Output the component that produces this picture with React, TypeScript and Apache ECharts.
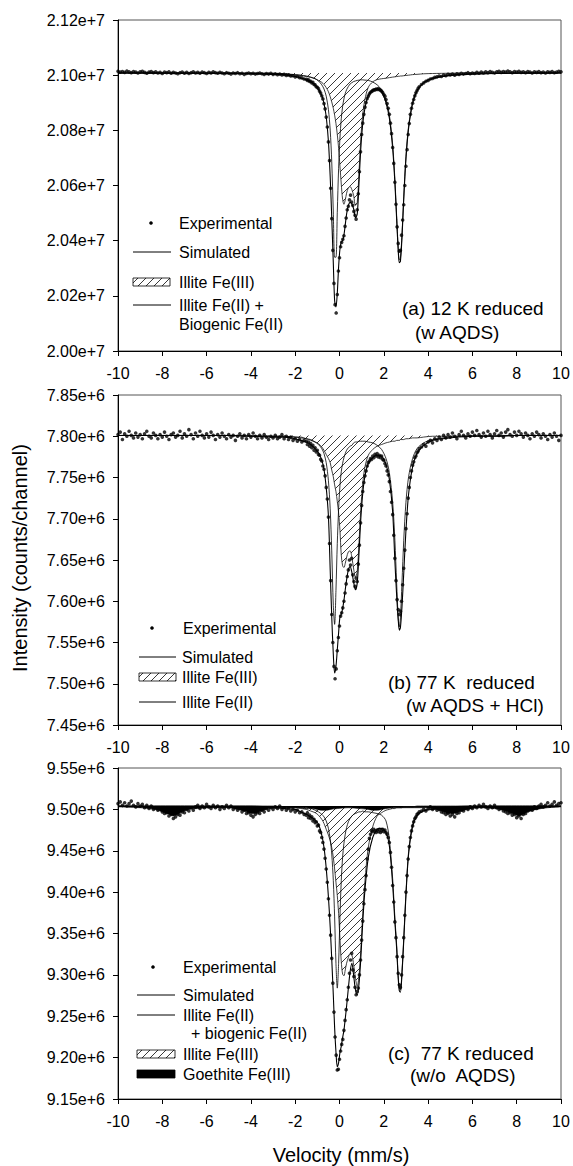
import React, { useEffect, useRef } from "react";
import * as echarts from "echarts";

const FONT = '"Liberation Sans", Arial, Helvetica, sans-serif';

// ---------- fitted curves: velocity grid (mm/s) ----------
const FIT_V = [-10, -7, -5, -4, -3, -2.5, -2, -1.75, -1.5, -1.3, -1.1, -0.95, -0.8, -0.7, -0.6, -0.5, -0.42, -0.35, -0.28, -0.22, -0.16, -0.1, -0.04, 0.02, 0.08, 0.14, 0.2, 0.26, 0.32, 0.4, 0.48, 0.56, 0.64, 0.72, 0.8, 0.88, 0.96, 1.05, 1.15, 1.3, 1.5, 1.7, 1.9, 2.1, 2.25, 2.4, 2.5, 2.58, 2.65, 2.7, 2.75, 2.82, 2.9, 3.0, 3.12, 3.3, 3.5, 3.8, 4.2, 5, 6, 7, 8, 10];

// all intensities below in thousands of counts per channel
// ---------- (a) 12 K reduced (w AQDS) ----------
const BASE_A = 21008;
const SIM_A = [21008, 21007, 21007, 21005, 21003, 21001, 20995, 20990, 20983, 20976, 20964, 20949, 20926, 20898, 20850, 20760, 20632, 20483, 20320, 20183, 20160, 20210, 20305, 20370, 20395, 20400, 20420, 20458, 20496, 20528, 20539, 20533, 20515, 20483, 20496, 20609, 20732, 20824, 20881, 20926, 20946, 20951, 20940, 20900, 20845, 20735, 20610, 20478, 20366, 20320, 20325, 20410, 20550, 20697, 20808, 20897, 20943, 20972, 20988, 20999, 21004, 21006, 21007, 21008];
const FE2_A = [21008, 21007, 21006, 21006, 21005, 21004, 21001, 21000, 20997, 20993, 20987, 20979, 20965, 20950, 20924, 20875, 20801, 20686, 20504, 20340, 20340, 20503, 20662, 20772, 20842, 20886, 20914, 20934, 20947, 20959, 20968, 20973, 20977, 20979, 20981, 20982, 20983, 20983, 20982, 20981, 20975, 20965, 20947, 20910, 20856, 20748, 20623, 20489, 20377, 20331, 20337, 20421, 20559, 20705, 20816, 20901, 20945, 20973, 20989, 21000, 21004, 21006, 21007, 21008];
const FE3_A = [21008, 21008, 21008, 21007, 21006, 21005, 21002, 20999, 20995, 20992, 20987, 20981, 20974, 20966, 20955, 20940, 20922, 20903, 20880, 20855, 20825, 20785, 20735, 20670, 20605, 20550, 20532, 20548, 20572, 20592, 20596, 20585, 20563, 20528, 20538, 20648, 20768, 20858, 20913, 20956, 20976, 20984, 20987, 20989, 20991, 20993, 20994, 20995, 20996, 20996, 20997, 20997, 20998, 20999, 21000, 21002, 21003, 21005, 21006, 21007, 21008, 21008, 21008, 21008];

// ---------- (b) 77 K reduced (w AQDS + HCl) ----------
const BASE_B = 7801;
const SIM_B = [7801, 7801, 7801, 7800, 7799, 7799, 7797, 7795, 7793, 7790, 7785, 7780, 7771, 7760, 7738, 7703, 7638, 7581, 7536, 7513, 7521, 7541, 7562, 7581, 7584, 7591, 7601, 7614, 7626, 7638, 7642, 7635, 7623, 7614, 7622, 7658, 7699, 7731, 7752, 7767, 7774, 7777, 7776, 7766, 7748, 7708, 7649, 7607, 7578, 7565, 7568, 7593, 7634, 7686, 7730, 7763, 7779, 7789, 7795, 7798, 7800, 7800, 7801, 7801];
const FE2_B = [7801, 7801, 7801, 7800, 7800, 7800, 7799, 7799, 7797, 7796, 7793, 7790, 7785, 7779, 7768, 7746, 7712, 7661, 7595, 7572, 7613, 7670, 7712, 7740, 7757, 7767, 7774, 7779, 7783, 7786, 7788, 7789, 7792, 7793, 7793, 7794, 7794, 7794, 7794, 7793, 7792, 7789, 7784, 7773, 7756, 7720, 7674, 7622, 7580, 7569, 7580, 7622, 7674, 7720, 7751, 7773, 7785, 7792, 7796, 7799, 7800, 7800, 7801, 7801];
const FE3_B = [7801, 7801, 7801, 7801, 7800, 7800, 7799, 7798, 7797, 7795, 7793, 7791, 7787, 7783, 7778, 7773, 7768, 7759, 7751, 7741, 7733, 7721, 7707, 7686, 7656, 7643, 7641, 7646, 7653, 7660, 7661, 7653, 7639, 7629, 7636, 7671, 7711, 7743, 7763, 7777, 7784, 7788, 7790, 7792, 7793, 7794, 7794, 7795, 7795, 7795, 7796, 7796, 7796, 7797, 7797, 7798, 7798, 7799, 7800, 7800, 7801, 7801, 7801, 7801];

// ---------- (c) 77 K reduced (w/o AQDS) ----------
const BASE_C = 9504;
const SIM_C = [9504, 9503, 9503, 9503, 9502, 9501, 9500, 9497, 9494, 9491, 9487, 9482, 9469, 9454, 9429, 9394, 9358, 9319, 9276, 9236, 9207, 9189, 9194, 9206, 9214, 9224, 9233, 9247, 9262, 9284, 9304, 9314, 9299, 9282, 9276, 9289, 9319, 9364, 9403, 9442, 9466, 9476, 9477, 9472, 9456, 9409, 9364, 9332, 9296, 9281, 9279, 9301, 9341, 9396, 9446, 9479, 9492, 9498, 9500, 9502, 9503, 9503, 9503, 9504];
const FE2_C = [9504, 9504, 9504, 9504, 9503, 9503, 9503, 9502, 9501, 9501, 9499, 9497, 9494, 9491, 9486, 9477, 9464, 9446, 9414, 9370, 9314, 9284, 9314, 9370, 9414, 9442, 9459, 9470, 9478, 9485, 9489, 9492, 9494, 9495, 9496, 9497, 9497, 9498, 9497, 9497, 9496, 9495, 9493, 9486, 9464, 9416, 9369, 9336, 9299, 9284, 9282, 9304, 9344, 9399, 9449, 9482, 9494, 9499, 9501, 9503, 9504, 9504, 9504, 9504];
const FE3_C = [9504, 9504, 9504, 9504, 9504, 9503, 9502, 9501, 9500, 9498, 9496, 9493, 9488, 9483, 9476, 9469, 9462, 9454, 9442, 9428, 9412, 9396, 9374, 9344, 9316, 9301, 9299, 9306, 9314, 9321, 9326, 9324, 9312, 9296, 9286, 9299, 9329, 9374, 9414, 9454, 9479, 9492, 9496, 9499, 9500, 9501, 9501, 9502, 9502, 9502, 9502, 9502, 9503, 9503, 9503, 9503, 9504, 9504, 9504, 9504, 9504, 9504, 9504, 9504];
const GOE_V = [-10, -9, -8.6, -8.2, -7.9, -7.7, -7.5, -7.3, -7.1, -6.8, -6.4, -5.8, -5, -4.6, -4.3, -4.1, -3.9, -3.7, -3.5, -3.2, -2.8, -2.2, -1.6, -1.2, -1.0, -0.8, -0.6, -0.4, -0.1, 0.4, 0.9, 1.3, 1.5, 1.7, 1.9, 2.1, 2.5, 3.2, 4.0, 4.4, 4.7, 4.9, 5.1, 5.3, 5.5, 5.8, 6.3, 7.0, 7.4, 7.7, 7.9, 8.1, 8.3, 8.5, 8.9, 9.4, 10];
const GOE_C = [9503, 9502, 9501, 9499, 9496, 9494, 9492, 9494, 9497, 9500, 9501, 9502, 9502, 9500, 9498, 9496, 9495, 9496, 9498, 9501, 9502, 9502, 9502, 9501, 9500, 9499, 9499, 9500, 9501, 9502, 9501, 9500, 9499, 9499, 9500, 9501, 9502, 9502, 9502, 9500, 9497, 9495, 9495, 9496, 9498, 9500, 9502, 9501, 9499, 9496, 9494, 9492, 9494, 9497, 9500, 9502, 9503];

// ---------- experimental spectra (channel velocities: 0.1 mm/s outside, 0.05 mm/s in the centre) ----------
function channelGrid(from: number, to: number, step: number): number[] {
  const out: number[] = [];
  const n = Math.round((to - from) / step);
  for (let i = 0; i <= n; i++) out.push(+(from + i * step).toFixed(2));
  return out;
}
const VEL = [...channelGrid(-10, -1.6, 0.1), ...channelGrid(-1.5, 3.6, 0.05), ...channelGrid(3.7, 10, 0.1)];

const EXP_A = [
  21014, 21011, 21013, 21010, 21015, 21012, 21009, 21013, 21011, 21008,
  21012, 21014, 21010, 21007, 21011, 21013, 21009, 21012, 21008, 21010,
  21006, 21011, 21009, 21012, 21007, 21010, 21008, 21005, 21009, 21011,
  21007, 21010, 21006, 21009, 21012, 21008, 21010, 21007, 21011, 21009,
  21006, 21010, 21008, 21012, 21009, 21007, 21010, 21008, 21005, 21009,
  21007, 21004, 21008, 21006, 21009, 21005, 21007, 21003, 21006, 21008,
  21005, 21007, 21004, 21006, 21008, 21005, 21003, 21006, 21004, 21007,
  21003, 21005, 21002, 21004, 21001, 21003, 20999, 21001, 20997, 20998,
  20994, 20995, 20991, 20990, 20986,
  20985, 20981, 20983, 20977, 20978, 20972, 20974, 20966, 20965, 20958,
  20956, 20951, 20942, 20935, 20925, 20914, 20897, 20878, 20848, 20812,
  20758, 20690, 20590, 20480, 20365, 20245, 20168, 20138, 20205, 20290,
  20338, 20378, 20394, 20405, 20418, 20452, 20482, 20512, 20525, 20548,
  20565, 20540, 20528, 20506, 20492, 20478, 20512, 20570, 20650, 20722,
  20785, 20826, 20858, 20884, 20901, 20915, 20924, 20932, 20938, 20941,
  20944, 20947, 20946, 20950, 20948, 20951, 20947, 20946, 20942, 20937,
  20930, 20924, 20912, 20897, 20880, 20858, 20826, 20788, 20738, 20680,
  20612, 20532, 20450, 20390, 20362, 20365, 20420, 20475, 20530, 20600,
  20670, 20730, 20785, 20825, 20858, 20880, 20898, 20912, 20925, 20936,
  20944, 20952, 20958,
  20966, 20972, 20978, 20981, 20986, 20988, 20992, 20994, 20997, 20995,
  21000, 20998, 21003, 21001, 21004, 21000, 21005, 21003, 21007, 21004,
  21006, 21009, 21005, 21008, 21006, 21010, 21007, 21011, 21008, 21012,
  21009, 21013, 21010, 21008, 21012, 21014, 21010, 21013, 21011, 21015,
  21012, 21009, 21013, 21011, 21014, 21010, 21012, 21009, 21013, 21011,
  21008, 21012, 21010, 21013, 21009, 21011, 21008, 21012, 21010, 21013,
  21009, 21011, 21014, 21012,
];

const EXP_B = [
  7802, 7805, 7796, 7803, 7800, 7806, 7801, 7798, 7804, 7799,
  7802, 7797, 7803, 7806, 7800, 7798, 7804, 7801, 7797, 7802,
  7799, 7805, 7800, 7796, 7802, 7804, 7799, 7801, 7806, 7798,
  7803, 7800, 7808, 7802, 7797, 7804, 7800, 7806, 7801, 7798,
  7803, 7799, 7805, 7801, 7796, 7802, 7799, 7804, 7800, 7797,
  7802, 7799, 7801, 7795, 7800, 7803, 7798, 7801, 7797, 7802,
  7799, 7804, 7800, 7797, 7801, 7798, 7802, 7799, 7796, 7800,
  7798, 7801, 7797, 7799, 7802, 7797, 7800, 7796, 7799, 7795,
  7797, 7794, 7796, 7793, 7795,
  7794, 7790, 7793, 7788, 7791, 7786, 7789, 7783, 7786, 7781,
  7783, 7778, 7777, 7772, 7770, 7764, 7760, 7752, 7738, 7724,
  7702, 7670, 7625, 7584, 7550, 7521, 7506, 7518, 7540, 7556,
  7570, 7582, 7586, 7592, 7600, 7610, 7621, 7630, 7638, 7650,
  7644, 7652, 7632, 7624, 7618, 7628, 7624, 7645, 7668, 7695,
  7716, 7733, 7744, 7752, 7758, 7764, 7768, 7770, 7773, 7772,
  7776, 7774, 7778, 7776, 7779, 7775, 7777, 7774, 7776, 7772,
  7771, 7767, 7764, 7758, 7753, 7745, 7733, 7720, 7705, 7680,
  7652, 7625, 7602, 7590, 7584, 7588, 7600, 7620, 7640, 7662,
  7688, 7706, 7725, 7738, 7750, 7758, 7765, 7769, 7774, 7776,
  7780, 7782, 7785,
  7787, 7790, 7788, 7793, 7795, 7792, 7797, 7795, 7799, 7796,
  7801, 7798, 7802, 7799, 7804, 7800, 7797, 7802, 7806, 7801,
  7798, 7803, 7800, 7805, 7801, 7807, 7802, 7799, 7804, 7800,
  7806, 7802, 7798, 7803, 7807, 7801, 7804, 7799, 7805, 7808,
  7802, 7800, 7805, 7801, 7806, 7803, 7799, 7804, 7801, 7797,
  7803, 7800, 7805, 7802, 7798, 7803, 7800, 7796, 7802, 7799,
  7804, 7800, 7795, 7801,
];

const EXP_C = [
  9507, 9509, 9505, 9508, 9504, 9507, 9510, 9505, 9503, 9507,
  9504, 9506, 9502, 9505, 9501, 9504, 9500, 9502, 9499, 9501,
  9497, 9495, 9496, 9492, 9494, 9489, 9491, 9494, 9493, 9497,
  9496, 9500, 9498, 9502, 9499, 9503, 9505, 9501, 9504, 9502,
  9506, 9503, 9501, 9505, 9502, 9504, 9500, 9503, 9501, 9505,
  9502, 9504, 9500, 9502, 9499, 9501, 9497, 9499, 9495, 9496,
  9493, 9491, 9494, 9496, 9495, 9499, 9497, 9501, 9499, 9502,
  9500, 9503, 9501, 9504, 9500, 9502, 9499, 9501, 9498, 9500,
  9497, 9499, 9496, 9497, 9494,
  9493, 9496, 9490, 9493, 9489, 9491, 9486, 9488, 9484, 9485,
  9480, 9481, 9474, 9472, 9466, 9460, 9452, 9441, 9428, 9412,
  9392, 9372, 9348, 9320, 9290, 9255, 9225, 9203, 9185, 9186,
  9198, 9208, 9216, 9222, 9233, 9245, 9258, 9270, 9285, 9302,
  9318, 9326, 9306, 9298, 9285, 9276, 9280, 9284, 9300, 9318,
  9342, 9365, 9386, 9403, 9420, 9440, 9452, 9465, 9470, 9474,
  9473, 9476, 9474, 9472, 9475, 9473, 9476, 9472, 9474, 9476,
  9473, 9475, 9472, 9470, 9466, 9460, 9448, 9430, 9408, 9388,
  9364, 9345, 9322, 9302, 9288, 9285, 9300, 9322, 9345, 9372,
  9400, 9420, 9440, 9455, 9466, 9474, 9480, 9485, 9489, 9491,
  9494, 9495, 9497,
  9498, 9500, 9498, 9501, 9503, 9500, 9502, 9499, 9500, 9497,
  9496, 9494, 9495, 9492, 9494, 9491, 9495, 9496, 9499, 9498,
  9502, 9500, 9503, 9501, 9504, 9502, 9505, 9503, 9506, 9503,
  9501, 9504, 9502, 9505, 9502, 9500, 9501, 9498, 9497, 9495,
  9496, 9493, 9494, 9490, 9492, 9489, 9494, 9495, 9498, 9500,
  9499, 9503, 9501, 9504, 9506, 9503, 9505, 9508, 9504, 9506,
  9509, 9505, 9507, 9508,
];

// ---------- axes ----------
const Y_MIN = [20000000, 7450000, 9150000];
const Y_MAX = [21200000, 7850000, 9550000];
const Y_STEP = [200000, 50000, 50000];
const Y_EXP = [7, 6, 6];
const X_TICKS = [-10, -8, -6, -4, -2, 0, 2, 4, 6, 8, 10];

const HATCH_URL =
  "data:image/svg+xml;utf8," +
  encodeURIComponent(
    "<svg xmlns='http://www.w3.org/2000/svg' width='8' height='8'><path d='M-1,9 L9,-1 M-1,1 L1,-1 M7,9 L9,7' stroke='#222' stroke-width='0.9' fill='none'/></svg>"
  );
const HATCH: any = { image: HATCH_URL, repeat: "repeat", imageWidth: 8, imageHeight: 8 };

const GRIDS = [
  { left: 118, top: 20, width: 443, height: 331 },
  { left: 118, top: 395, width: 443, height: 330 },
  { left: 118, top: 768, width: 443, height: 331 },
];

const PANELS = [
  { base: BASE_A, sim: SIM_A, fe2: FE2_A, fe3: FE3_A, exp: EXP_A, goe: null as number[] | null },
  { base: BASE_B, sim: SIM_B, fe2: FE2_B, fe3: FE3_B, exp: EXP_B, goe: null as number[] | null },
  { base: BASE_C, sim: SIM_C, fe2: FE2_C, fe3: FE3_C, exp: EXP_C, goe: GOE_C },
];

const K = 1000;
const pairs = (xs: number[], ys: number[]) => xs.map((x, i) => [x, ys[i] * K]);

function txt(x: number, y: number, text: string, size = 16, align = "left") {
  return {
    type: "text",
    x,
    y,
    silent: true,
    style: { text, fill: "#000", fontSize: size, fontFamily: FONT, align, verticalAlign: "middle" },
  };
}
function hline(x1: number, x2: number, y: number) {
  return { type: "line", silent: true, shape: { x1, y1: y, x2, y2: y }, style: { stroke: "#000", lineWidth: 1 } };
}
function dot(x: number, y: number) {
  return { type: "circle", silent: true, shape: { cx: x, cy: y, r: 1.8 }, style: { fill: "#000" } };
}
function box(x: number, y: number, w: number, h: number, fill: any) {
  return { type: "rect", silent: true, shape: { x, y, width: w, height: h }, style: { fill, stroke: "#000", lineWidth: 0.8 } };
}

function buildOption() {
  const series: any[] = [];
  PANELS.forEach((p, i) => {
    const common = { xAxisIndex: i, yAxisIndex: i, symbol: "none", silent: true, animation: false };
    series.push({
      ...common,
      type: "line",
      name: "Illite Fe(III)",
      data: pairs(FIT_V, p.fe3),
      smooth: 0.3,
      lineStyle: { color: "#111", width: 0.8 },
      areaStyle: { color: HATCH, origin: p.base * K, opacity: 1 },
      z: 2,
    });
    if (p.goe) {
      series.push({
        ...common,
        type: "line",
        name: "Goethite Fe(III)",
        data: pairs(GOE_V, p.goe),
        smooth: 0.3,
        lineStyle: { color: "#000", width: 0.6 },
        areaStyle: { color: "#000", origin: p.base * K, opacity: 1 },
        z: 2,
      });
    }
    series.push({
      ...common,
      type: "line",
      name: "Illite Fe(II)",
      data: pairs(FIT_V, p.fe2),
      smooth: 0.3,
      lineStyle: { color: "#000", width: 0.8 },
      z: 3,
    });
    series.push({
      ...common,
      type: "line",
      name: "Simulated",
      data: pairs(FIT_V, p.sim),
      smooth: 0.3,
      lineStyle: { color: "#000", width: 1.1 },
      z: 4,
    });
    series.push({
      type: "scatter",
      name: "Experimental",
      xAxisIndex: i,
      yAxisIndex: i,
      silent: true,
      data: pairs(VEL, p.exp),
      symbol: "circle",
      symbolSize: 3.6,
      itemStyle: { color: "#000" },
      z: 5,
    });
  });

  const xAxis = GRIDS.map((_, i) => ({
    type: "value",
    gridIndex: i,
    min: X_TICKS[0],
    max: X_TICKS[X_TICKS.length - 1],
    interval: 2,
    axisLine: { show: true, onZero: false, lineStyle: { color: "#000", width: 1 } },
    axisTick: { show: true, length: 5, lineStyle: { color: "#000" } },
    axisLabel: { color: "#000", fontSize: 16, fontFamily: FONT, margin: 14 },
    splitLine: { show: false },
  }));
  const yAxis = GRIDS.map((_, i) => ({
    type: "value",
    gridIndex: i,
    position: "left",
    min: Y_MIN[i],
    max: Y_MAX[i],
    interval: Y_STEP[i],
    axisLine: { show: true, onZero: false, lineStyle: { color: "#000", width: 1 } },
    axisTick: { show: true, length: 5, lineStyle: { color: "#000" } },
    axisLabel: {
      color: "#000",
      fontSize: 16,
      fontFamily: FONT,
      margin: 13,
      formatter: (v: number) => (v / Math.pow(10, Y_EXP[i])).toFixed(2) + "e+" + Y_EXP[i],
    },
    splitLine: { show: false },
  }));

  const graphic: any[] = [
    // (a)
    dot(151, 223), txt(179, 223, "Experimental"),
    hline(133, 171, 252), txt(179, 252, "Simulated"),
    box(133, 278, 37, 8, HATCH), txt(179, 282, "Illite Fe(III)"),
    hline(133, 171, 305), txt(179, 305, "Illite Fe(II) +"), txt(179, 324, "Biogenic Fe(II)"),
    txt(402, 308, "(a) 12 K reduced", 19), txt(415, 332, "(w AQDS)", 19),
    // (b)
    dot(152, 628), txt(183, 628, "Experimental"),
    hline(139, 176, 657), txt(182, 657, "Simulated"),
    box(139, 673, 37, 8, HATCH), txt(182, 677, "Illite Fe(III)"),
    hline(139, 176, 702), txt(182, 702, "Illite Fe(II)"),
    txt(388, 682, "(b) 77 K\u00a0 reduced", 19), txt(406, 705, "(w AQDS + HCl)", 19),
    // (c)
    dot(153, 967), txt(183, 967, "Experimental"),
    hline(137, 175, 995), txt(183, 995, "Simulated"),
    hline(137, 175, 1015), txt(183, 1015, "Illite Fe(II)"), txt(191, 1033, "+ biogenic Fe(II)"),
    box(137, 1050, 38, 8, HATCH), txt(183, 1054, "Illite Fe(III)"),
    box(137, 1070, 38, 8, "#000"), txt(183, 1074, "Goethite Fe(III)"),
    txt(388, 1053, "(c)\u00a0 77 K reduced", 19), txt(410, 1075, "(w/o\u00a0 AQDS)", 19),
    // axis titles
    {
      type: "text",
      x: 20,
      y: 558,
      rotation: Math.PI / 2,
      silent: true,
      style: { text: "Intensity (counts/channel)", fill: "#000", fontSize: 20, fontFamily: FONT, align: "center", verticalAlign: "middle" },
    },
    txt(341, 1155, "Velocity (mm/s)", 20, "center"),
  ];

  return {
    animation: false,
    backgroundColor: "#fff",
    textStyle: { fontFamily: FONT },
    grid: GRIDS.map((g) => ({ ...g, show: true, borderColor: "#555", borderWidth: 1, backgroundColor: "transparent" })),
    xAxis,
    yAxis,
    series,
    graphic,
  };
}

export default function App() {
  const ref = useRef<HTMLDivElement>(null);
  useEffect(() => {
    if (!ref.current) return;
    const chart = echarts.init(ref.current, undefined, { renderer: "svg" });
    chart.setOption(buildOption() as any);
    return () => chart.dispose();
  }, []);
  return (
    <div
      ref={ref}
      style={{ position: "fixed", left: 0, top: 0, width: 573, height: 1166, background: "#fff" }}
    />
  );
}
